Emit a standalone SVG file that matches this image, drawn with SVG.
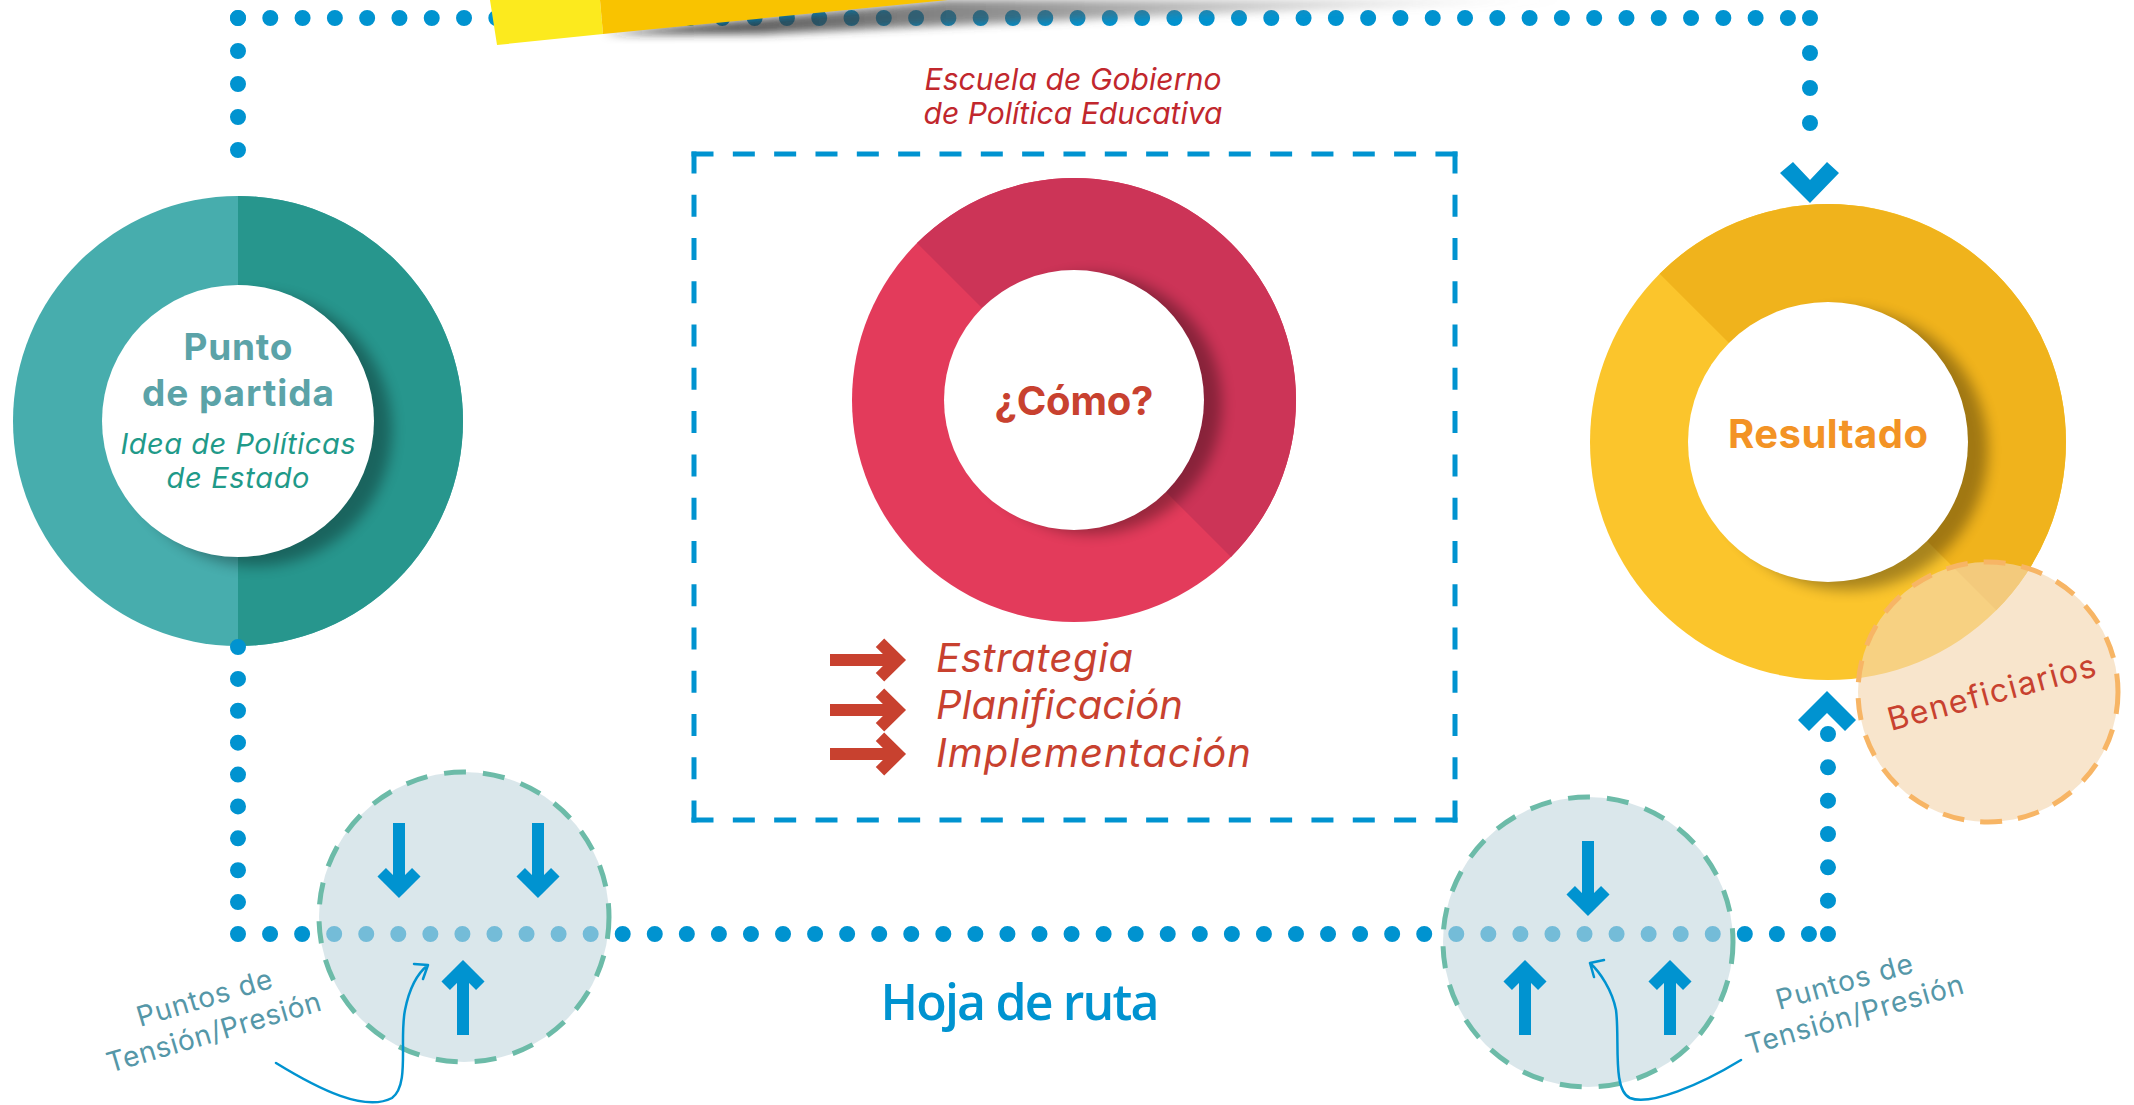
<svg xmlns="http://www.w3.org/2000/svg" width="2134" height="1105" viewBox="0 0 2134 1105">
<defs>
<style>
.dots{fill:none;stroke:#0093D0;stroke-width:16;stroke-linecap:round}
.chev{fill:#0093D0}
.arr{fill:none;stroke:#0093D0;stroke-width:12;stroke-miterlimit:10}
.rarr{fill:none;stroke:#C8412F;stroke-width:12;stroke-miterlimit:10}
.frame{fill:none;stroke:#0093D0;stroke-width:5}
.tens{fill:#C1D7DE;fill-opacity:.6;stroke:#6CBBA8;stroke-width:5;stroke-dasharray:22 17}
.curve{fill:none;stroke:#0093D0;stroke-width:2.5;stroke-linecap:round;stroke-linejoin:round}
.f{font-family:Inter,"Open Sans","Liberation Sans",sans-serif}
.it{font-style:italic}
.bd{font-weight:700}
.shadow{fill:#000;opacity:.33}
.tp{font-size:28px;fill:#5597A8}
.red{fill:#C8412F}
</style>
<filter id="blur7" x="-30%" y="-30%" width="160%" height="160%"><feGaussianBlur stdDeviation="7"/></filter>
<filter id="blur4" x="-10%" y="-100%" width="120%" height="300%"><feGaussianBlur stdDeviation="4"/></filter>
<clipPath id="cpP"><circle cx="238" cy="421" r="225"/></clipPath>
<clipPath id="cpC"><circle cx="1074" cy="400" r="222"/></clipPath>
<clipPath id="cpR"><circle cx="1828" cy="442" r="238"/></clipPath>
<linearGradient id="shg" gradientUnits="userSpaceOnUse" x1="600" y1="0" x2="1580" y2="0">
<stop offset="0" stop-color="#222" stop-opacity=".9"/>
<stop offset=".45" stop-color="#555" stop-opacity=".6"/>
<stop offset="1" stop-color="#999" stop-opacity="0"/>
</linearGradient>
</defs>
<rect width="2134" height="1105" fill="#fff"/>

<g id="node-punto">
<circle cx="238" cy="421" r="225" fill="#47ADAD"/>
<path d="M238,196 A225,225 0 0 1 238,646 Z" fill="#27968D"/>
<circle class="shadow" cx="256" cy="430" r="136" filter="url(#blur7)" clip-path="url(#cpP)"/>
<circle cx="238" cy="421" r="136" fill="#fff"/>
<text class="f bd" x="238" y="360" text-anchor="middle" font-size="37" fill="#5BA3A8" textLength="109">Punto</text>
<text class="f bd" x="238" y="406" text-anchor="middle" font-size="37" fill="#5BA3A8" textLength="192">de partida</text>
<text class="f it" x="238" y="454" text-anchor="middle" font-size="29" fill="#1F9A89" textLength="235">Idea de Políticas</text>
<text class="f it" x="238" y="488" text-anchor="middle" font-size="29" fill="#1F9A89" textLength="143">de Estado</text>
</g>

<g id="node-escuela">
<text class="f it" x="1073" y="90" text-anchor="middle" font-size="30" fill="#C1272D" textLength="297">Escuela de Gobierno</text>
<text class="f it" x="1073" y="124" text-anchor="middle" font-size="30" fill="#C1272D" textLength="299">de Política Educativa</text>
<path class="frame" d="M691.5,154 H1457.5 M691.5,820 H1457.5" stroke-dasharray="22 19.33"/>
<path class="frame" d="M694,151.5 V822.5 M1455,151.5 V822.5" stroke-dasharray="22 21.27"/>
</g>

<g id="node-como">
<circle cx="1074" cy="400" r="222" fill="#E33B5B"/>
<path d="M917,243 A222,222 0 0 1 1231,557 Z" fill="#CC3457"/>
<circle class="shadow" cx="1092" cy="404" r="130" filter="url(#blur7)" clip-path="url(#cpC)"/>
<circle cx="1074" cy="400" r="130" fill="#fff"/>
<text class="f bd" x="1074" y="415" text-anchor="middle" font-size="40" fill="#C8412F" textLength="159">¿Cómo?</text>
</g>

<g id="node-pasos">
<path class="rarr" d="M830,660 H896 M880,642.7 L897.5,660 L880,677.3"/>
<path class="rarr" d="M830,710 H896 M880,692.7 L897.5,710 L880,727.3"/>
<path class="rarr" d="M830,754 H896 M880,736.7 L897.5,754 L880,771.3"/>
<text class="f it red" x="936" y="672" font-size="40" textLength="197">Estrategia</text>
<text class="f it red" x="936" y="719" font-size="40" textLength="247">Planificación</text>
<text class="f it red" x="936" y="767" font-size="40" textLength="315">Implementación</text>
</g>

<g id="node-resultado">
<circle cx="1828" cy="442" r="238" fill="#FBC52C"/>
<path d="M1659.7,273.7 A238,238 0 0 1 1996.3,610.3 Z" fill="#F0B31C"/>
<circle class="shadow" cx="1848" cy="450" r="140" filter="url(#blur7)" clip-path="url(#cpR)"/>
<circle cx="1828" cy="442" r="140" fill="#fff"/>
<text class="f bd" x="1828" y="448" text-anchor="middle" font-size="40" fill="#F39325" textLength="200">Resultado</text>
</g>

<g id="node-beneficiarios">
<circle cx="1988" cy="692" r="130" fill="#F4D7B0" fill-opacity=".65" stroke="#F7B565" stroke-width="5" stroke-dasharray="22 16"/>
<text class="f red" transform="translate(1891,731) rotate(-15)" font-size="32" textLength="214">Beneficiarios</text>
</g>

<g id="connectors">
<path class="dots" d="M238,18 H1789" stroke-dasharray="0 32.29"/>
<path class="dots" d="M238,18 V183" stroke-dasharray="0 33"/>
<path class="dots" d="M1810,18 V158" stroke-dasharray="0 35"/>
<polygon class="chev" points="1780,173 1793,162 1810,180 1827,162 1839,173 1810,203"/>
<path class="dots" d="M238,647 V934" stroke-dasharray="0 31.89"/>
<path class="dots" d="M238,934 H1809" stroke-dasharray="0 32.06"/>
<path class="dots" d="M1828,934 V734" stroke-dasharray="0 33.33"/>
<polygon class="chev" points="1798,720 1827,691 1856,720 1845,731 1827,713 1809,731"/>
</g>

<g id="node-tension-left">
<circle class="tens" cx="464" cy="917" r="145"/>
<path class="arr" d="M399,823 V888 M381.7,872.2 L399,889.5 L416.3,872.2"/>
<path class="arr" d="M538,823 V888 M520.7,872.2 L538,889.5 L555.3,872.2"/>
<path class="arr" d="M463,1035 V970 M445.7,985.8 L463,968.5 L480.3,985.8"/>
<path class="curve" d="M276,1063 C320,1090 365,1112 392,1098 C410,1085 399,1040 405,1010 C410,985 419,972 428,965 M414,964 L428,965 L423,979"/>
<text class="f tp" transform="translate(140,1027) rotate(-16.5)" textLength="140">Puntos de</text>
<text class="f tp" transform="translate(110,1073) rotate(-16.5)" textLength="222">Tensión/Presión</text>
</g>

<g id="node-tension-right">
<circle class="tens" cx="1588" cy="942" r="145"/>
<path class="arr" d="M1588,841 V906 M1570.7,890.2 L1588,907.5 L1605.3,890.2"/>
<path class="arr" d="M1525,1035 V970 M1507.7,985.8 L1525,968.5 L1542.3,985.8"/>
<path class="arr" d="M1670,1035 V970 M1652.7,985.8 L1670,968.5 L1687.3,985.8"/>
<path class="curve" d="M1741,1060 C1700,1085 1650,1106 1630,1098 C1612,1090 1620,1040 1616,1010 C1612,990 1600,972 1590,963 M1604,960 L1590,963 L1594,977"/>
<text class="f tp" transform="translate(1779,1010) rotate(-15.6)" textLength="141">Puntos de</text>
<text class="f tp" transform="translate(1749,1055) rotate(-16)" textLength="225">Tensión/Presión</text>
</g>

<g id="node-hoja">
<text x="1020" y="1020" text-anchor="middle" font-family="'Open Sans','Liberation Sans',sans-serif" font-weight="600" font-size="50" fill="#0093D0" textLength="279">Hoja de ruta</text>
</g>

<g id="banner">
<polygon points="603,34 948,0 1580,0 1200,14 760,34" fill="url(#shg)" filter="url(#blur4)"/>
<polygon points="490,0 600,0 603,34 497,45" fill="#FCEA1E"/>
<polygon points="600,0 948,0 603,34" fill="#F9C300"/>
</g>
</svg>
